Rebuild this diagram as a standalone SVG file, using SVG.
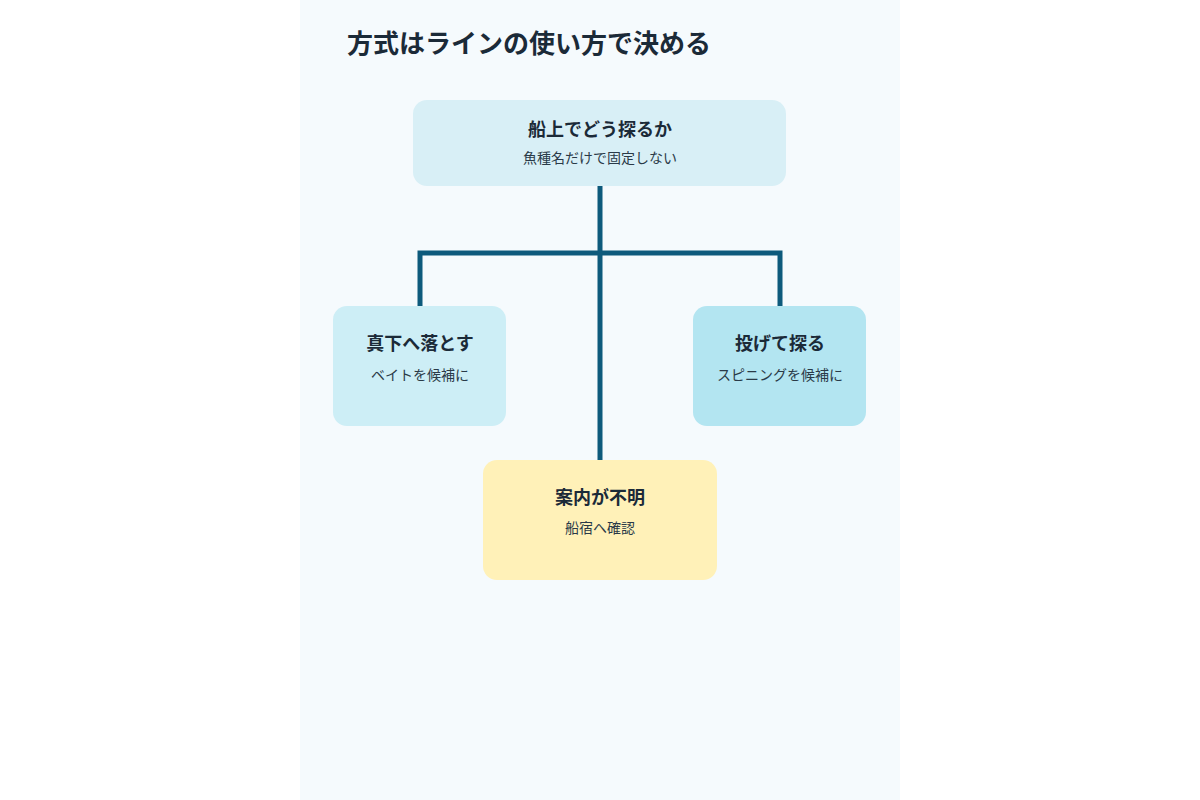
<svg xmlns="http://www.w3.org/2000/svg" width="1200" height="800" viewBox="0 0 1200 800">
<style>
text{font-family:"Noto Sans CJK JP","Noto Sans",sans-serif;fill:#1b2a38;text-anchor:middle}
.t{font-size:18px;font-weight:bold}
.s{font-size:14px;fill:#2a3a48}
.c{fill:none;stroke:#0d5a7c;stroke-width:5}
</style>
<rect width="1200" height="800" fill="#ffffff"/>
<rect x="300" y="0" width="600" height="800" fill="#f5fafd"/>
<text x="347" y="53" style="font-size:26px;font-weight:bold;text-anchor:start">方式はラインの使い方で決める</text>
<g id="connectors">
<path class="c" d="M600 186V460M420 306V253H780V306"/>
</g>
<g id="top"><rect x="413" y="100" width="373" height="86" rx="14" fill="#d8eff6"/><text class="t" x="600" y="136">船上でどう探るか</text><text class="s" x="600" y="163">魚種名だけで固定しない</text></g>
<g id="left"><rect x="333" y="306" width="173" height="120" rx="14" fill="#cdeef6"/><text class="t" x="420" y="350">真下へ落とす</text><text class="s" x="420" y="380">ベイトを候補に</text></g>
<g id="right"><rect x="693" y="306" width="173" height="120" rx="14" fill="#b3e5f1"/><text class="t" x="780" y="350">投げて探る</text><text class="s" x="780" y="380">スピニングを候補に</text></g>
<g id="bottom"><rect x="483" y="460" width="234" height="120" rx="14" fill="#fff1b8"/><text class="t" x="600" y="504">案内が不明</text><text class="s" x="600" y="533">船宿へ確認</text></g>
</svg>
